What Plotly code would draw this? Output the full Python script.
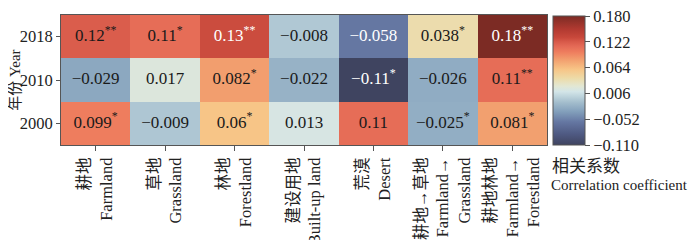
import plotly.graph_objects as go

categories = ["耕地<br>Farmland", "草地<br>Grassland", "林地<br>Forestland",
              "建设用地<br>Built-up land", "荒漠<br>Desert",
              "耕地→草地<br>Farmland→<br>Grassland", "耕地林地<br>Farmland→<br>Forestland"]
years = ["2000", "2010", "2018"]
vals_2000 = [0.099, -0.009, 0.06, 0.013, 0.11, -0.025, 0.081]
vals_2010 = [-0.029, 0.017, 0.082, -0.022, -0.11, -0.026, 0.11]
vals_2018 = [0.12, 0.11, 0.13, -0.008, -0.058, 0.038, 0.18]
sig_2000 = ["*", "", "*", "", "", "*", "*"]
sig_2010 = ["", "", "*", "", "*", "", "**"]
sig_2018 = ["**", "*", "**", "", "", "*", "**"]
cb_ticks = [-0.110, -0.052, 0.006, 0.064, 0.122, 0.180]

z = [vals_2000, vals_2010, vals_2018]
sigs = [sig_2000, sig_2010, sig_2018]

zmin, zmax = -0.110, 0.180
stops = [(-0.110, "#3f4460"), (-0.085, "#4f5a83"), (-0.058, "#6577a2"), (-0.035, "#829fbb"),
         (-0.015, "#a2bccc"), (0.0, "#bfd5dd"), (0.010, "#d3e5e8"), (0.022, "#e2e7d4"),
         (0.040, "#eddba8"), (0.060, "#f7c587"), (0.081, "#f2a06f"), (0.099, "#ee7d5e"),
         (0.112, "#e46a56"), (0.122, "#d85a4a"), (0.132, "#c8483b"), (0.150, "#b23a31"),
         (0.180, "#7c2b24")]
colorscale = [[(v - zmin) / (zmax - zmin), c] for v, c in stops]

def fmt(v):
    s = ("%g" % abs(v))
    return ("−" + s) if v < 0 else s

fig = go.Figure()
fig.add_trace(go.Heatmap(
    z=z, x=categories, y=years, zmin=zmin, zmax=zmax, colorscale=colorscale,
    showscale=True, xgap=0, ygap=0, hoverinfo="skip",
    colorbar=dict(
        x=1.0123, xanchor="left", xref="paper", y=0, yanchor="bottom", len=129 / 130, lenmode="fraction",
        ypad=0, xpad=0,
        thickness=32, outlinecolor="#555555", outlinewidth=1,
        tickvals=cb_ticks, ticktext=["−0.110", "−0.052", "0.006", "0.064", "0.122", "0.180"],
        ticks="outside", ticklen=5, tickcolor="#555555", ticklabeloverflow="allow",
        tickfont=dict(family="Liberation Serif", size=16.5, color="#222222"),
    ),
))

tx, ty, tt, tc = [], [], [], []
white_cells = {(2, 2), (2, 6), (1, 4), (2, 4)}
for r, yr in enumerate(years):
    for c, cat in enumerate(categories):
        v = z[r][c]
        s = fmt(v)
        if sigs[r][c]:
            s += "<sup>" + sigs[r][c] + "</sup>"
        tx.append(cat); ty.append(yr); tt.append(s)
        tc.append("#ffffff" if (r, c) in white_cells else "#1a1a1a")

fig.add_trace(go.Scatter(x=tx, y=ty, mode="text", text=tt,
                         textfont=dict(family="Liberation Serif", size=17, color=tc),
                         hoverinfo="skip", showlegend=False))

fig.update_layout(
    width=692, height=232,
    margin=dict(l=53, r=153, t=7, b=95),
    paper_bgcolor="white", plot_bgcolor="white",
    font=dict(family="Liberation Serif, Noto Sans CJK SC", size=15, color="#222222"),
    showlegend=False,
    xaxis=dict(tickangle=-90, ticks="outside", ticklen=5, tickcolor="#555555", automargin=False,
               showline=True, linecolor="#555555", mirror=True, showgrid=False, zeroline=False,
               tickfont=dict(family="Liberation Serif, Noto Sans CJK SC", size=16.5)),
    yaxis=dict(ticks="outside", ticklen=4, tickcolor="#555555", automargin=False,
               showline=True, linecolor="#555555", mirror=True, showgrid=False, zeroline=False,
               tickfont=dict(family="Liberation Serif", size=16.5)),
    annotations=[
        dict(text="年份 Year", xref="paper", yref="paper", x=-0.095, y=0.5, xanchor="center",
             yanchor="middle", textangle=-90, showarrow=False,
             font=dict(family="Liberation Serif, Noto Sans CJK SC", size=15)),
        dict(text="相关系数", xref="paper", yref="paper", x=1.006, y=-0.15, xanchor="left",
             yanchor="middle", showarrow=False, font=dict(family="Noto Sans CJK SC", size=17)),
        dict(text="Correlation coefficient", xref="paper", yref="paper", x=1.004, y=-0.31,
             xanchor="left", yanchor="middle", showarrow=False,
             font=dict(family="Liberation Serif", size=15)),
    ],
)

fig.write_html("out.html")
